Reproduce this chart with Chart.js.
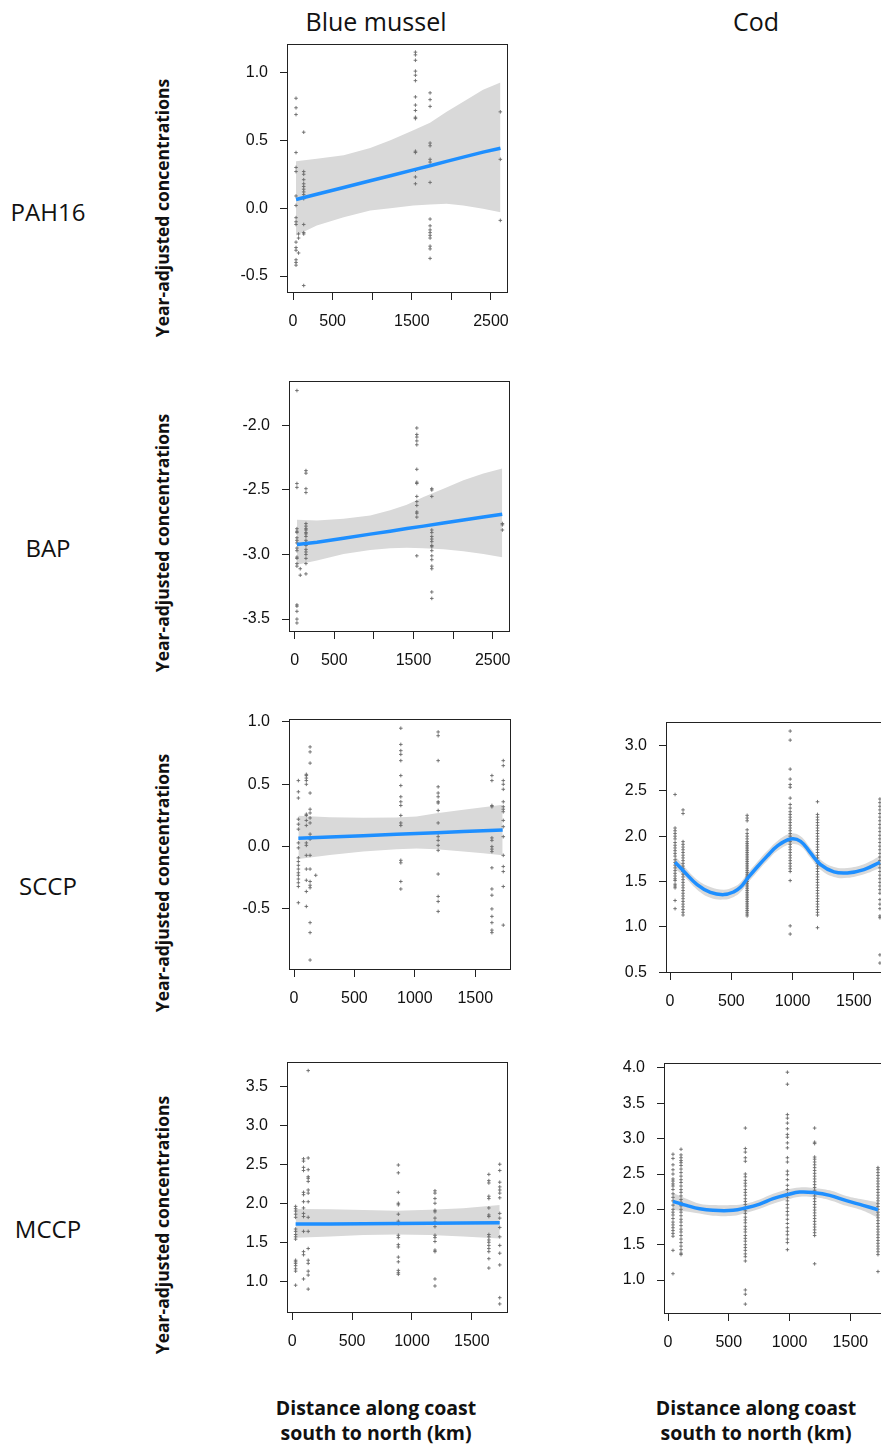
<!DOCTYPE html>
<html>
<head>
<meta charset="utf-8">
<script src="https://cdn.jsdelivr.net/npm/chart.js@4.4.0/dist/chart.umd.min.js"></script>
<style>
  html, body { margin: 0; padding: 0; background: #fff; }
  body { width: 881px; height: 1446px; position: relative; overflow: hidden; font-family: 'Open Sans', 'Noto Sans', sans-serif; color: #111; }
  canvas { position: absolute; }
  .lbl { position: absolute; transform: translate(-50%, -50%); white-space: nowrap; }
  .col { font-size: 25px; }
  .row { font-size: 24px; }
  .ytitle { font-size: 17.5px; font-weight: bold; transform: translate(-50%, -50%) rotate(-90deg); }
  .xtitle { font-size: 19.5px; font-weight: bold; text-align: center; line-height: 25px; }
</style>
</head>
<body>

<div class="lbl col" style="left:376px; top:21px;">Blue mussel</div>
<div class="lbl col" style="left:756px; top:21px;">Cod</div>

<div class="lbl row" style="left:48px; top:211px;">PAH16</div>
<div class="lbl row" style="left:48px; top:547px;">BAP</div>
<div class="lbl row" style="left:48px; top:885px;">SCCP</div>
<div class="lbl row" style="left:48px; top:1228px;">MCCP</div>

<div class="lbl ytitle" style="left:162px; top:208px;">Year-adjusted concentrations</div>
<div class="lbl ytitle" style="left:162px; top:543px;">Year-adjusted concentrations</div>
<div class="lbl ytitle" style="left:162px; top:883px;">Year-adjusted concentrations</div>
<div class="lbl ytitle" style="left:162px; top:1225px;">Year-adjusted concentrations</div>

<div class="lbl xtitle" style="left:376px; top:1420px;">Distance along coast<br>south to north (km)</div>
<div class="lbl xtitle" style="left:756px; top:1420px;">Distance along coast<br>south to north (km)</div>

<canvas id="pah16"></canvas>
<canvas id="bap"></canvas>
<canvas id="sccp"></canvas>
<canvas id="mccp"></canvas>
<canvas id="codSccp"></canvas>
<canvas id="codMccp"></canvas>

<script>
// ---- tick labels ----
const longXTicks = [0, 500, 1000, 1500, 2000, 2500];
const longXLabels = ['0', '500', '', '1500', '', '2500'];
const shortXTicks = [0, 500, 1000, 1500];
const shortXLabels = ['0', '500', '1000', '1500'];

// ---- Blue mussel, PAH16 ----
const pahStations = [38, 70, 135, 1546, 1731, 2618];
const pahValues = [
  [0.81, 0.74, 0.69, 0.41, 0.30, 0.27, 0.09, 0.02, -0.07, -0.10, -0.12, -0.25, -0.29, -0.31, -0.38, -0.40, -0.42],
  [-0.19, -0.22, -0.33],
  [0.56, 0.27, 0.25, 0.21, 0.18, 0.16, 0.14, 0.12, 0.10, 0.07, -0.12, -0.18, -0.19, -0.57],
  [1.15, 1.13, 1.09, 1.01, 0.98, 0.94, 0.82, 0.76, 0.72, 0.66, 0.67, 0.41, 0.42, 0.28, 0.23, 0.18],
  [0.85, 0.80, 0.75, 0.48, 0.46, 0.36, 0.34, 0.19, -0.08, -0.13, -0.16, -0.18, -0.20, -0.22, -0.28, -0.30, -0.37],
  [0.71, 0.36, -0.09]
];
const pahCurveX = [38, 300, 640, 975, 1230, 1520, 1730, 1940, 2150, 2400, 2620];
const pahFit = [0.064, 0.103, 0.153, 0.202, 0.239, 0.282, 0.313, 0.345, 0.376, 0.413, 0.442];
const pahUpper = [0.346, 0.365, 0.390, 0.444, 0.501, 0.575, 0.630, 0.711, 0.785, 0.872, 0.926];
const pahLower = [-0.202, -0.128, -0.067, -0.017, 0.0, 0.02, 0.027, 0.032, 0.02, -0.005, -0.03];
const pahYTicks = [-0.5, 0.0, 0.5, 1.0];

// ---- Blue mussel, BAP ----
const bapStations = [29, 71, 143, 1542, 1731, 2622];
const bapValues = [
  [-1.73, -2.45, -2.48, -2.80, -2.82, -2.83, -2.87, -2.89, -2.91, -2.95, -2.97, -3.02, -3.03, -3.07, -3.09, -3.39, -3.40, -3.44, -3.50, -3.53],
  [-3.11, -3.16],
  [-2.35, -2.37, -2.49, -2.52, -2.76, -2.78, -2.80, -2.81, -2.83, -2.84, -2.86, -2.89, -2.91, -2.93, -2.96, -2.98, -3.00, -3.03, -3.07, -3.15],
  [-2.02, -2.07, -2.09, -2.12, -2.15, -2.34, -2.44, -2.45, -2.55, -2.59, -2.62, -2.67, -2.68, -2.71, -3.01],
  [-2.49, -2.50, -2.55, -2.81, -2.83, -2.86, -2.88, -2.90, -2.93, -2.94, -2.97, -3.01, -3.04, -3.09, -3.11, -3.29, -3.34],
  [-2.76, -2.77, -2.81]
];
const bapCurveX = [29, 282, 618, 954, 1206, 1416, 1626, 1878, 2130, 2382, 2620];
const bapFit = [-2.922, -2.905, -2.874, -2.842, -2.819, -2.799, -2.780, -2.756, -2.733, -2.709, -2.688];
const bapUpper = [-2.731, -2.736, -2.723, -2.697, -2.658, -2.614, -2.554, -2.49, -2.425, -2.373, -2.334];
const bapLower = [-3.08, -3.047, -2.995, -2.964, -2.951, -2.948, -2.951, -2.959, -2.974, -2.995, -3.021];
const bapYTicks = [-3.5, -3.0, -2.5, -2.0];

// ---- Blue mussel, SCCP ----
const sccpStations = [36, 102, 133, 180, 884, 1193, 1638, 1732];
const sccpValues = [
  [0.53, 0.44, 0.39, 0.22, 0.18, 0.14, 0.03, -0.01, -0.09, -0.12, -0.15, -0.18, -0.21, -0.23, -0.26, -0.29, -0.32, -0.45],
  [0.58, 0.57, 0.55, 0.53, 0.50, 0.26, 0.25, 0.21, 0.17, 0.03, 0.01, -0.07, -0.18, -0.27, -0.36, -0.48],
  [0.80, 0.76, 0.67, 0.43, 0.30, 0.27, 0.23, 0.19, 0.10, 0.06, -0.07, -0.18, -0.28, -0.31, -0.33, -0.61, -0.69, -0.91],
  [-0.23],
  [0.95, 0.82, 0.77, 0.74, 0.69, 0.57, 0.49, 0.40, 0.36, 0.33, 0.25, 0.19, 0.17, -0.11, -0.13, -0.28, -0.34],
  [0.92, 0.89, 0.69, 0.48, 0.43, 0.40, 0.36, 0.35, 0.29, 0.19, 0.11, 0.08, 0.05, 0.01, -0.03, -0.22, -0.40, -0.44, -0.52],
  [0.57, 0.53, 0.33, 0.32, 0.07, 0.05, 0.00, -0.02, -0.04, -0.17, -0.34, -0.39, -0.50, -0.56, -0.61, -0.67, -0.69],
  [0.69, 0.65, 0.53, 0.50, 0.46, 0.36, 0.32, 0.30, 0.28, 0.21, 0.16, 0.08, -0.07, -0.16, -0.20, -0.32, -0.63]
];
const sccpCurveX = [36, 296, 572, 848, 1014, 1180, 1401, 1566, 1727];
const sccpFit = [0.067, 0.077, 0.088, 0.099, 0.106, 0.112, 0.121, 0.127, 0.134];
const sccpUpper = [0.247, 0.236, 0.231, 0.233, 0.241, 0.268, 0.295, 0.316, 0.335];
const sccpLower = [-0.099, -0.067, -0.040, -0.021, -0.016, -0.021, -0.040, -0.054, -0.070];
const sccpYTicks = [-0.5, 0.0, 0.5, 1.0];

// ---- Blue mussel, MCCP ----
const mccpStations = [28, 94, 133, 886, 1192, 1642, 1733];
const mccpValues = [
  [1.96, 1.93, 1.90, 1.86, 1.82, 1.67, 1.64, 1.60, 1.57, 1.54, 1.27, 1.25, 1.23, 1.20, 1.16, 1.13, 0.95],
  [2.57, 2.54, 2.46, 2.42, 2.14, 2.11, 2.02, 1.94, 1.87, 1.83, 1.64, 1.38, 1.34, 1.03],
  [3.70, 2.58, 2.43, 2.34, 2.32, 2.28, 2.17, 2.13, 2.02, 1.82, 1.64, 1.42, 1.27, 1.23, 1.13, 1.08, 0.90],
  [2.49, 2.39, 2.14, 2.00, 1.98, 1.86, 1.77, 1.74, 1.59, 1.56, 1.47, 1.44, 1.31, 1.25, 1.14, 1.11, 1.09],
  [2.16, 2.13, 2.06, 2.00, 1.91, 1.89, 1.81, 1.76, 1.70, 1.59, 1.56, 1.51, 1.40, 1.38, 1.03, 0.94],
  [2.37, 2.29, 2.26, 2.09, 2.06, 1.94, 1.85, 1.83, 1.60, 1.57, 1.53, 1.50, 1.46, 1.42, 1.38, 1.29, 1.17],
  [2.50, 2.42, 2.27, 2.21, 2.17, 2.13, 2.07, 1.87, 1.81, 1.69, 1.57, 1.46, 1.36, 1.21, 0.79, 0.71]
];
const mccpCurveX = [28, 317, 594, 872, 1150, 1428, 1733];
const mccpFit = [1.733, 1.735, 1.738, 1.741, 1.744, 1.747, 1.750];
const mccpUpper = [1.926, 1.922, 1.913, 1.905, 1.918, 1.935, 1.978];
const mccpLower = [1.557, 1.575, 1.592, 1.600, 1.592, 1.575, 1.549];
const mccpYTicks = [1.0, 1.5, 2.0, 2.5, 3.0, 3.5];

// ---- Cod, SCCP ----
const codSccpStations = [41, 106, 629, 980, 1203, 1712];
const codSccpValues = [
  [2.46, 2.09, 2.06, 2.03, 2.00, 1.97, 1.93, 1.90, 1.87, 1.84, 1.81, 1.78, 1.74, 1.71, 1.68, 1.65, 1.62, 1.59, 1.56, 1.53, 1.51, 1.47, 1.45, 1.43, 1.29, 1.20],
  [2.29, 2.25, 1.94, 1.91, 1.88, 1.85, 1.82, 1.79, 1.76, 1.73, 1.70, 1.67, 1.64, 1.61, 1.58, 1.55, 1.52, 1.49, 1.46, 1.43, 1.40, 1.37, 1.34, 1.31, 1.28, 1.25, 1.22, 1.19, 1.16, 1.13],
  [2.23, 2.20, 2.17, 2.07, 2.03, 2.00, 1.97, 1.94, 1.92, 1.90, 1.88, 1.86, 1.84, 1.82, 1.80, 1.78, 1.76, 1.74, 1.72, 1.70, 1.68, 1.66, 1.64, 1.62, 1.60, 1.58, 1.56, 1.54, 1.52, 1.50, 1.48, 1.46, 1.44, 1.42, 1.40, 1.38, 1.36, 1.34, 1.32, 1.30, 1.28, 1.26, 1.24, 1.22, 1.20, 1.18, 1.16, 1.14, 1.12],
  [3.16, 3.06, 2.74, 2.63, 2.57, 2.54, 2.42, 2.35, 2.31, 2.27, 2.24, 2.21, 2.18, 2.15, 2.12, 2.09, 2.06, 2.03, 2.00, 1.97, 1.94, 1.91, 1.88, 1.85, 1.82, 1.79, 1.76, 1.73, 1.70, 1.67, 1.64, 1.61, 1.51, 1.01, 0.92],
  [2.38, 2.24, 2.21, 2.18, 2.15, 2.12, 2.09, 2.06, 2.03, 2.00, 1.97, 1.94, 1.91, 1.88, 1.85, 1.82, 1.79, 1.76, 1.73, 1.70, 1.67, 1.64, 1.61, 1.58, 1.55, 1.52, 1.49, 1.46, 1.43, 1.40, 1.37, 1.34, 1.31, 1.28, 1.25, 1.22, 1.19, 1.16, 1.13, 0.99],
  [2.41, 2.37, 2.33, 2.29, 2.25, 2.21, 2.17, 2.13, 2.09, 2.05, 2.01, 1.97, 1.93, 1.89, 1.85, 1.81, 1.77, 1.73, 1.69, 1.65, 1.61, 1.57, 1.53, 1.49, 1.45, 1.41, 1.37, 1.30, 1.25, 1.20, 1.12, 1.10, 0.69, 0.60]
];
const codSccpCurveX = [41, 112, 221, 329, 438, 520, 574, 629, 711, 792, 874, 983, 1065, 1146, 1228, 1337, 1446, 1582, 1712];
const codSccpFit = [1.712, 1.613, 1.466, 1.380, 1.355, 1.385, 1.435, 1.530, 1.660, 1.780, 1.890, 1.969, 1.943, 1.815, 1.686, 1.606, 1.594, 1.631, 1.712];
const codSccpUpper = [1.78, 1.67, 1.52, 1.44, 1.41, 1.44, 1.49, 1.585, 1.715, 1.835, 1.945, 2.03, 2.00, 1.87, 1.74, 1.66, 1.65, 1.69, 1.78];
const codSccpLower = [1.64, 1.56, 1.41, 1.32, 1.30, 1.33, 1.38, 1.475, 1.605, 1.725, 1.835, 1.91, 1.89, 1.76, 1.63, 1.55, 1.54, 1.58, 1.65];
const codSccpYTicks = [0.5, 1.0, 1.5, 2.0, 2.5, 3.0];

// ---- Cod, MCCP ----
const codMccpStations = [41, 107, 636, 982, 1206, 1727];
const codMccpValues = [
  [2.78, 2.72, 2.63, 2.56, 2.50, 2.43, 2.40, 2.36, 2.33, 2.28, 2.22, 2.17, 2.12, 2.06, 2.00, 1.96, 1.92, 1.87, 1.82, 1.78, 1.74, 1.70, 1.66, 1.62, 1.42, 1.09],
  [2.85, 2.77, 2.73, 2.69, 2.66, 2.62, 2.57, 2.52, 2.47, 2.42, 2.38, 2.33, 2.28, 2.24, 2.19, 2.14, 2.10, 2.05, 2.00, 1.96, 1.91, 1.86, 1.82, 1.77, 1.72, 1.68, 1.63, 1.58, 1.53, 1.48, 1.43, 1.38, 1.36],
  [3.15, 2.86, 2.81, 2.73, 2.68, 2.50, 2.46, 2.41, 2.37, 2.33, 2.28, 2.24, 2.20, 2.15, 2.11, 2.07, 2.02, 1.98, 1.94, 1.89, 1.85, 1.81, 1.76, 1.72, 1.68, 1.63, 1.59, 1.55, 1.50, 1.46, 1.42, 1.37, 1.33, 1.27, 0.86, 0.80, 0.66],
  [3.94, 3.77, 3.34, 3.29, 3.22, 3.14, 3.06, 3.02, 2.94, 2.87, 2.73, 2.67, 2.54, 2.49, 2.42, 2.34, 2.28, 2.22, 2.17, 2.12, 2.07, 2.02, 1.97, 1.92, 1.86, 1.80, 1.74, 1.69, 1.64, 1.58, 1.53, 1.43],
  [3.15, 2.95, 2.93, 2.74, 2.71, 2.67, 2.63, 2.59, 2.55, 2.51, 2.47, 2.43, 2.39, 2.35, 2.31, 2.27, 2.23, 2.19, 2.15, 2.11, 2.07, 2.03, 1.99, 1.95, 1.91, 1.87, 1.83, 1.79, 1.75, 1.71, 1.67, 1.63, 1.23],
  [2.59, 2.56, 2.52, 2.48, 2.44, 2.40, 2.36, 2.32, 2.28, 2.24, 2.20, 2.16, 2.12, 2.08, 2.04, 2.00, 1.96, 1.92, 1.88, 1.84, 1.80, 1.76, 1.72, 1.68, 1.64, 1.60, 1.56, 1.52, 1.48, 1.44, 1.40, 1.36, 1.12]
];
const codMccpCurveX = [41, 151, 260, 370, 535, 636, 754, 864, 982, 1083, 1206, 1330, 1467, 1604, 1727];
const codMccpFit = [2.113, 2.057, 2.009, 1.986, 1.986, 2.019, 2.075, 2.151, 2.208, 2.245, 2.236, 2.198, 2.123, 2.057, 1.995];
const codMccpUpper = [2.23, 2.15, 2.08, 2.06, 2.06, 2.08, 2.14, 2.22, 2.28, 2.31, 2.30, 2.27, 2.19, 2.14, 2.10];
const codMccpLower = [1.99, 1.97, 1.94, 1.91, 1.91, 1.95, 2.01, 2.08, 2.14, 2.18, 2.17, 2.13, 2.05, 1.98, 1.88];
const codMccpYTicks = [1.0, 1.5, 2.0, 2.5, 3.0, 3.5, 4.0];

// ---- layout: room around each plot box (tick labels, overflow) ----
const PAD = { left: 60, right: 40, top: 36, bottom: 44 };

const boxPlugin = {
  id: 'box',
  afterDatasetsDraw(chart) {
    const a = chart.chartArea;
    const ctx = chart.ctx;
    ctx.save();
    ctx.strokeStyle = '#222';
    ctx.lineWidth = 1;
    ctx.strokeRect(Math.round(a.left) + 0.5, Math.round(a.top) + 0.5, Math.round(a.right - a.left) - 1, Math.round(a.bottom - a.top) - 1);
    ctx.restore();
  }
};

function pairs(xs, ys) {
  return xs.map((x, i) => ({ x, y: ys[i] }));
}

function buildPanel(id, box, lim, xTicks, xLabels, yTicks, stations, values, curveX, fit, upper, lower, smooth) {
  const canvas = document.getElementById(id);
  const w = box.w + PAD.left + PAD.right;
  const h = box.h + PAD.top + PAD.bottom;
  canvas.width = w;
  canvas.height = h;
  canvas.style.left = (box.l - PAD.left) + 'px';
  canvas.style.top = (box.t - PAD.top) + 'px';
  canvas.style.width = w + 'px';
  canvas.style.height = h + 'px';

  const points = stations.flatMap((x, i) => values[i].map(y => ({ x, y })));
  const tension = smooth ? 0.4 : 0;

  return new Chart(canvas, {
    type: 'scatter',
    data: {
      datasets: [
        {
          type: 'line',
          data: pairs(curveX, fit),
          borderColor: '#1e8fff',
          borderWidth: 3.5,
          pointRadius: 0,
          tension,
          fill: false,
          order: 0
        },
        {
          data: points,
          pointStyle: 'cross',
          pointRadius: 1.8,
          borderColor: 'rgba(105,105,105,0.9)',
          borderWidth: 1,
          order: 1
        },
        {
          type: 'line',
          data: pairs(curveX, upper),
          borderWidth: 0,
          borderColor: 'rgba(0,0,0,0)',
          backgroundColor: '#d9d9d9',
          pointRadius: 0,
          tension,
          fill: '+1',
          order: 2
        },
        {
          type: 'line',
          data: pairs(curveX, lower),
          borderWidth: 0,
          borderColor: 'rgba(0,0,0,0)',
          pointRadius: 0,
          tension,
          fill: false,
          order: 3
        }
      ]
    },
    options: {
      responsive: false,
      animation: false,
      devicePixelRatio: 1,
      layout: { padding: { left: 0, right: PAD.right, top: PAD.top, bottom: 0 } },
      plugins: { legend: { display: false }, tooltip: { enabled: false } },
      scales: {
        x: {
          type: 'linear',
          min: lim.x0, max: lim.x1,
          afterBuildTicks: s => { s.ticks = xTicks.map(v => ({ value: v })); },
          afterFit: s => { s.height = PAD.bottom; },
          grid: { drawOnChartArea: false, drawTicks: true, tickLength: 7, color: '#222' },
          border: { display: false },
          ticks: {
            autoSkip: false, maxRotation: 0, padding: 12,
            color: '#111',
            font: { family: "'Liberation Sans', Arial, sans-serif", size: 16 },
            callback: (v, i) => xLabels[i]
          }
        },
        y: {
          type: 'linear',
          min: lim.y0, max: lim.y1,
          afterBuildTicks: s => { s.ticks = yTicks.map(v => ({ value: v })); },
          afterFit: s => { s.width = PAD.left; },
          grid: { drawOnChartArea: false, drawTicks: true, tickLength: 7, color: '#222' },
          border: { display: false },
          ticks: {
            autoSkip: false, padding: 12,
            color: '#111',
            font: { family: "'Liberation Sans', Arial, sans-serif", size: 16 },
            callback: v => v.toFixed(1)
          }
        }
      }
    },
    plugins: [boxPlugin]
  });
}

buildPanel('pah16', { l: 287, t: 44, w: 221, h: 249 }, { x0: -76, x1: 2715, y0: -0.625, y1: 1.21 },
  longXTicks, longXLabels, pahYTicks, pahStations, pahValues, pahCurveX, pahFit, pahUpper, pahLower, false);

buildPanel('bap', { l: 289, t: 381, w: 221, h: 251 }, { x0: -71, x1: 2718, y0: -3.60, y1: -1.656 },
  longXTicks, longXLabels, bapYTicks, bapStations, bapValues, bapCurveX, bapFit, bapUpper, bapLower, false);

buildPanel('sccp', { l: 289, t: 719, w: 222, h: 251 }, { x0: -41.5, x1: 1796, y0: -0.99, y1: 1.024 },
  shortXTicks, shortXLabels, sccpYTicks, sccpStations, sccpValues, sccpCurveX, sccpFit, sccpUpper, sccpLower, false);

buildPanel('mccp', { l: 287, t: 1062, w: 221, h: 251 }, { x0: -44, x1: 1802, y0: 0.594, y1: 3.81 },
  shortXTicks, shortXLabels, mccpYTicks, mccpStations, mccpValues, mccpCurveX, mccpFit, mccpUpper, mccpLower, false);

buildPanel('codSccp', { l: 666, t: 722, w: 222, h: 251 }, { x0: -33, x1: 1778, y0: 0.49, y1: 3.26 },
  shortXTicks, shortXLabels, codSccpYTicks, codSccpStations, codSccpValues, codSccpCurveX, codSccpFit, codSccpUpper, codSccpLower, true);

buildPanel('codMccp', { l: 664, t: 1063, w: 222, h: 251 }, { x0: -33, x1: 1793, y0: 0.52, y1: 4.07 },
  shortXTicks, shortXLabels, codMccpYTicks, codMccpStations, codMccpValues, codMccpCurveX, codMccpFit, codMccpUpper, codMccpLower, true);
</script>
</body>
</html>
